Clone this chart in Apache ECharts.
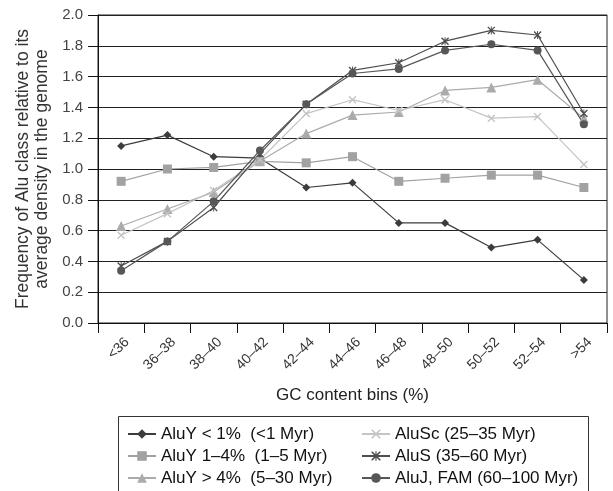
<!DOCTYPE html>
<html><head><meta charset="utf-8">
<script src="https://cdn.jsdelivr.net/npm/echarts@6/dist/echarts.min.js"></script>
<style>html,body{margin:0;padding:0;background:#fff}#c{width:613px;height:491px}</style>
</head><body><div id="c"></div>
<script>
var categories = ['<36','36\u201338','38\u201340','40\u201342','42\u201344','44\u201346','46\u201348','48\u201350','50\u201352','52\u201354','>54'];
var yTicks = [0,0.2,0.4,0.6,0.8,1.0,1.2,1.4,1.6,1.8,2.0];
var aluY1 = [1.15,1.22,1.08,1.07,0.88,0.91,0.65,0.65,0.49,0.54,0.28];
var aluY14 = [0.92,1.00,1.01,1.05,1.04,1.08,0.92,0.94,0.96,0.96,0.88];
var aluY4 = [0.63,0.74,0.85,1.05,1.23,1.35,1.37,1.51,1.53,1.58,1.33];
var aluSc = [0.57,0.71,0.86,1.06,1.36,1.45,1.38,1.45,1.33,1.34,1.03];
var aluS = [0.37,0.53,0.75,1.10,1.42,1.64,1.69,1.83,1.90,1.87,1.36];
var aluJ = [0.34,0.53,0.79,1.12,1.42,1.62,1.65,1.77,1.81,1.77,1.29];
var names = ['AluY < 1%  (<1 Myr)','AluY 1\u20134%  (1\u20135 Myr)','AluY > 4%  (5\u201330 Myr)','AluSc (25\u201335 Myr)','AluS (35\u201360 Myr)','AluJ, FAM (60\u2013100 Myr)'];

var crossPath = 'path://M0,1.2L1.2,0L10,8.8L8.8,10Z M8.8,0L10,1.2L1.2,10L0,8.8Z';
var starPath = 'path://M0,1.2L1.2,0L10,8.8L8.8,10Z M8.8,0L10,1.2L1.2,10L0,8.8Z M4.4,0L5.6,0L5.6,10L4.4,10Z';

function mk(name, data, color, symbol, size) {
  return {
    name: name, type: 'line', data: data, symbol: symbol, symbolSize: size,
    showAllSymbol: true, animation: false,
    lineStyle: {color: color, width: 1.2},
    itemStyle: {color: color}
  };
}
var font = 'Liberation Sans, Arial, sans-serif';
var legendPos = [[127,425],[127,447],[127,469],[361,425],[361,447],[361,469]];
var legends = names.map(function (n, i) {
  return {data: [n], orient: 'horizontal', left: legendPos[i][0], top: legendPos[i][1],
    itemWidth: 28, itemHeight: 12, itemGap: 0, padding: 0,
    textStyle: {fontSize: 17, color: '#111', fontFamily: font, lineHeight: 18}};
});
var chart = echarts.init(document.getElementById('c'), null, {renderer: 'canvas'});
chart.setOption({
  animation: false,
  textStyle: {fontFamily: font},
  grid: {left: 98, right: 6, top: 15, bottom: 168, show: true, borderColor: '#222', borderWidth: 1},
  xAxis: {
    type: 'category', data: categories, boundaryGap: true,
    name: 'GC content bins (%)', nameLocation: 'middle', nameGap: 64,
    nameTextStyle: {fontSize: 17, color: '#222', fontFamily: font},
    axisLine: {lineStyle: {color: '#111', width: 1}},
    axisTick: {show: true, length: 10, lineStyle: {color: '#111'}},
    axisLabel: {rotate: 45, fontSize: 14, color: '#333', margin: 11, fontFamily: font, interval: 0,
      align: 'right', verticalAlign: 'top', lineHeight: 17}
  },
  yAxis: {
    type: 'value', min: 0, max: 2, interval: 0.2,
    name: 'Frequency of Alu class relative to its\naverage density in the genome',
    nameLocation: 'middle', nameGap: 32, nameRotate: 90,
    nameTextStyle: {fontSize: 17.5, color: '#333', lineHeight: 19, fontFamily: font},
    axisLine: {show: true, lineStyle: {color: '#111'}},
    axisTick: {show: true, length: 10, lineStyle: {color: '#111'}},
    axisLabel: {fontSize: 15, color: '#444', margin: 15, fontFamily: font,
      formatter: function (v) { return v.toFixed(1); }},
    splitLine: {show: true, lineStyle: {color: '#222', width: 1}}
  },
  legend: legends,
  graphic: [{type: 'rect', shape: {x: 118.5, y: 416.5, width: 470, height: 100}, style: {fill: 'none', stroke: '#333', lineWidth: 1}}],
  series: [
    mk(names[0], aluY1, '#3c3c3c', 'diamond', 8),
    mk(names[1], aluY14, '#a2a2a2', 'rect', 9),
    mk(names[2], aluY4, '#ababab', 'triangle', 10),
    mk(names[3], aluSc, '#c4c4c4', crossPath, 8),
    mk(names[4], aluS, '#4e4e4e', starPath, 8),
    mk(names[5], aluJ, '#575757', 'circle', 8)
  ]
});
</script></body></html>
